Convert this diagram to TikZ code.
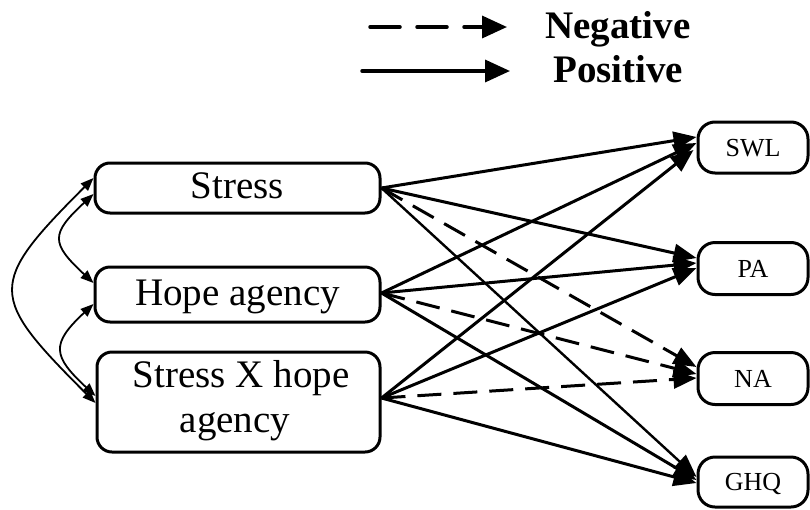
\documentclass[tikz,border=0pt]{standalone}
\usepackage{fontspec}
\setmainfont{Liberation Serif}
\usetikzlibrary{arrows.meta}
\begin{document}
\begin{tikzpicture}[x=1pt,y=-1pt,
  lbox/.style={draw,line width=3pt,rounded corners=15pt,minimum width=285pt,inner sep=0pt,
    font=\fontsize{39}{45}\selectfont,text height=28pt,text depth=7pt},
  ltext/.style={font=\fontsize{39}{45}\selectfont,inner sep=0pt,anchor=base},
  rbox/.style={draw,line width=3pt,rounded corners=17pt,minimum width=110pt,minimum height=52pt,
    inner sep=0pt,font=\fontsize{26}{30}\selectfont,text height=20pt,text depth=2.8pt},
  posarr/.style={line width=3pt,-{Triangle[length=23pt,width=18pt]}},
  negarr/.style={posarr,dash pattern=on 24pt off 12pt},
  dblarr/.style={line width=1.8pt,{Triangle[length=13pt,width=10pt]}-{Triangle[length=13pt,width=10pt]}},
  legtext/.style={font=\bfseries\fontsize{39}{42}\selectfont,anchor=base west,inner sep=0pt},
]
\useasboundingbox (0,0) rectangle (810,509);

% legend
\coordinate (negA) at (370,27);
\coordinate (negB) at (507,27);
\coordinate (posA) at (362,71);
\coordinate (posB) at (510,71);
\draw[line width=3.5pt,line cap=round,dash pattern=on 30pt off 17pt,-{Triangle[length=25pt,width=22pt]}] (negA) -- (negB);
\draw[line width=3.5pt,line cap=round,-{Triangle[length=25pt,width=22pt]}] (posA) -- (posB);
\node[legtext] (negT) at (545,38) {Negative};
\node[legtext] (posT) at (553,82) {Positive};

% left boxes
\node[lbox,minimum height=50pt] (s) at (237.5,188) {Stress};
\node[lbox,minimum height=55pt] (h) at (237.5,294.5) {Hope agency};
\node[lbox,minimum height=100pt,minimum width=283pt] (x) at (238.5,402) {};
\node[ltext] (x1) at (241,387) {Stress X hope};
\node[ltext] (x2) at (235,432) {agency};

% right boxes
\node[rbox,minimum height=51pt] (swl) at (753,147.5) {SWL};
\node[rbox] (pa) at (753,268.5) {PA};
\node[rbox] (na) at (753,378.5) {NA};
\node[rbox,minimum height=50pt] (ghq) at (753,482) {GHQ};

% paths from Stress
\draw[posarr] (s.east) -- ([yshift=10.5pt]swl.west);
\draw[posarr] (s.east) -- ([yshift=10.5pt]pa.west);
\draw[negarr] (s.east) -- ([yshift=11.5pt]na.west);
\draw[posarr,line width=2.4pt] (s.east) -- ([yshift=5pt]ghq.west);

% paths from Hope agency
\draw[posarr] ([yshift=1.5pt]h.east) -- ([yshift=4.5pt]swl.west);
\draw[posarr] ([yshift=1.5pt]h.east) -- ([yshift=5.5pt]pa.west);
\draw[negarr] ([yshift=1.5pt]h.east) -- ([yshift=4.5pt]na.west);
\draw[posarr] ([yshift=1.5pt]h.east) -- ([yshift=2pt]ghq.west);

% paths from interaction
\draw[posarr] ([yshift=4pt]x.east) -- ([xshift=-3pt,yshift=-2.5pt]swl.west);
\draw[posarr] ([yshift=4pt]x.east) -- ([yshift=0.5pt]pa.west);
\draw[negarr] ([yshift=4pt]x.east) -- ([yshift=0.5pt]na.west);
\draw[posarr] ([yshift=4pt]x.east) -- ([yshift=-1pt]ghq.west);

% covariances
\draw[dblarr] ([yshift=-6pt]s.west) .. controls +(-43,40) and +(-43,-40) .. ([yshift=11.5pt]h.west);
\draw[dblarr] ([yshift=-9.5pt]h.west) .. controls +(-43,40) and +(-43,-40) .. ([yshift=6pt]x.west);
\draw[dblarr] ([yshift=10pt]s.west) .. controls +(-107,107) and +(-107,-107) .. ([yshift=-1pt]x.west);
\end{tikzpicture}
\end{document}
